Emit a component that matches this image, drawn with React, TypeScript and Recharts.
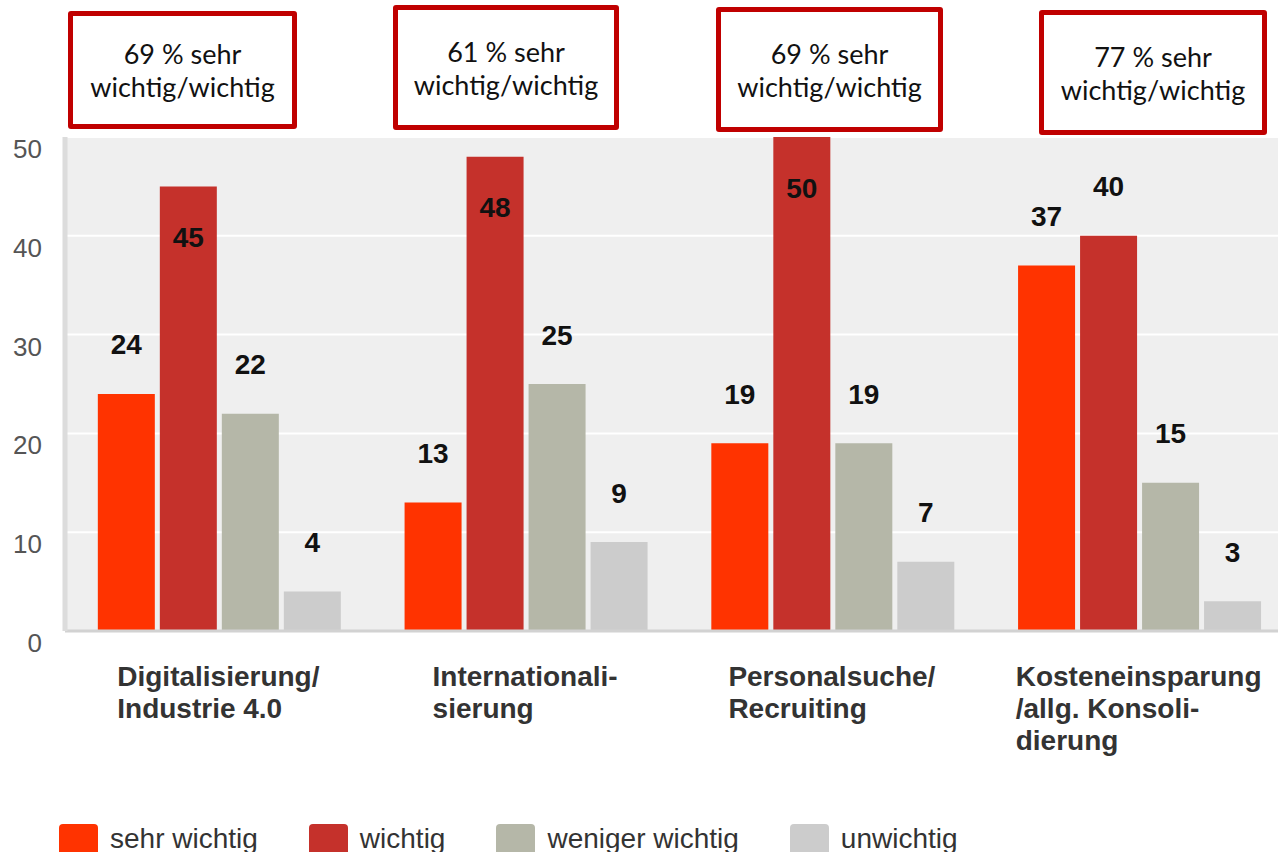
import React from 'react';
import { BarChart, Bar, XAxis, YAxis, CartesianGrid, Legend, LabelList } from 'recharts';

// categories and values
const categories = [
  'Digitalisierung/\nIndustrie 4.0',
  'Internationali-\nsierung',
  'Personalsuche/\nRecruiting',
  'Kosteneinsparung\n/allg. Konsoli-\ndierung',
];
const sehrWichtig = [24, 13, 19, 37];
const wichtig = [45, 48, 50, 40];
const wenigerWichtig = [22, 25, 19, 15];
const unwichtig = [4, 9, 7, 3];
const yTicks = [0, 10, 20, 30, 40, 50];
const boxTexts = ['69 % sehr\nwichtig/wichtig', '61 % sehr\nwichtig/wichtig', '69 % sehr\nwichtig/wichtig', '77 % sehr\nwichtig/wichtig'];

// layout of the annotation boxes
const boxLayout = [
  { left: 68, top: 11, width: 229, height: 118 },
  { left: 393, top: 5, width: 226, height: 125 },
  { left: 716, top: 7, width: 227, height: 125 },
  { left: 1039, top: 10, width: 228, height: 125 },
];

const series = [
  { key: 'sehrWichtig', name: 'sehr wichtig', color: '#ff3300' },
  { key: 'wichtig', name: 'wichtig', color: '#c5312b' },
  { key: 'wenigerWichtig', name: 'weniger wichtig', color: '#b5b7a8' },
  { key: 'unwichtig', name: 'unwichtig', color: '#cccccc' },
];

const data = categories.map((name, i) => ({
  name,
  sehrWichtig: sehrWichtig[i],
  wichtig: wichtig[i],
  wenigerWichtig: wenigerWichtig[i],
  unwichtig: unwichtig[i],
}));

const PLOT_TOP = 137;
const FONT = '"Liberation Sans", Arial, sans-serif';
const X_FONT = `bold 28px ${FONT}`;

let measureCtx: CanvasRenderingContext2D | null = null;
const measure = (s: string) => {
  if (!measureCtx) measureCtx = document.createElement('canvas').getContext('2d');
  if (!measureCtx) return s.length * 15;
  measureCtx.font = X_FONT;
  return measureCtx.measureText(s).width;
};

const XTick = (props: any) => {
  const { x, y, payload } = props;
  const lines = String(payload.value).split('\n');
  const w = Math.max(...lines.map(measure));
  const left = x - w / 2;
  return (
    <text x={left} y={y + 55} fill="#333" style={{ font: X_FONT }} textAnchor="start">
      {lines.map((l, i) => (
        <tspan key={i} x={left} dy={i === 0 ? 0 : 32}>{l}</tspan>
      ))}
    </text>
  );
};

const YTick = (props: any) => {
  const { x, y, payload } = props;
  return (
    <text x={x - 23} y={y + 12} fill="#555" fontSize={26} fontFamily={FONT} textAnchor="end" dominantBaseline="central">
      {payload.value}
    </text>
  );
};

const ValueLabel = (props: any) => {
  const { x, y, width, value } = props;
  let cy = y - 49;
  if (cy < PLOT_TOP + 25) cy = y + 51;
  return (
    <text x={x + width / 2} y={cy} textAnchor="middle" dominantBaseline="central" fontSize={28} fontWeight="bold" fontFamily={FONT} fill="#111">
      {value}
    </text>
  );
};

const LegendContent = (props: any) => {
  const order = series.map((s) => s.name);
  const payload = [...(props.payload || [])].sort((a: any, b: any) => order.indexOf(a.value) - order.indexOf(b.value));
  return (
    <div style={{ display: 'flex', alignItems: 'flex-start' }}>
      {payload.map((p: any) => (
        <div key={p.value} style={{ display: 'flex', alignItems: 'flex-start', marginRight: 51 }}>
          <div style={{ width: 39, height: 38, background: p.color, borderRadius: 4, marginRight: 12 }} />
          <span style={{ font: `28px ${FONT}`, lineHeight: '30px', color: '#333', whiteSpace: 'nowrap' }}>{p.value}</span>
        </div>
      ))}
    </div>
  );
};

export default function App() {
  return (
    <div style={{ position: 'absolute', left: 0, top: 0, width: 1278, height: 852, overflow: 'hidden', background: '#fff' }}>
      <BarChart
        width={1300}
        height={852}
        data={data}
        margin={{ top: PLOT_TOP, right: 8, bottom: 191, left: 0 }}
        barCategoryGap="10.7%"
        barGap={5}
      >
        <CartesianGrid vertical={false} fill="#efefef" stroke="#ffffff" strokeWidth={2} />
        <XAxis
          dataKey="name"
          height={30}
          tickLine={false}
          tickSize={0}
          tickMargin={0}
          interval={0}
          axisLine={{ stroke: '#d2d2d2', strokeWidth: 3 }}
          tick={<XTick />}
        />
        <YAxis
          width={65}
          domain={[0, 50]}
          ticks={yTicks}
          tickLine={false}
          tickSize={0}
          tickMargin={0}
          axisLine={{ stroke: '#dcdcdc', strokeWidth: 5 }}
          tick={<YTick />}
        />
        <Legend
          layout="horizontal"
          verticalAlign="middle"
          align="center"
          content={<LegendContent />}
          wrapperStyle={{ position: 'absolute', top: 824, left: 59, width: 1200 }}
        />
        {series.map((s) => (
          <Bar key={s.key} dataKey={s.key} name={s.name} fill={s.color} isAnimationActive={false}>
            <LabelList dataKey={s.key} content={<ValueLabel />} />
          </Bar>
        ))}
      </BarChart>
      {boxTexts.map((t, i) => (
        <div
          key={i}
          style={{
            position: 'absolute',
            ...boxLayout[i],
            boxSizing: 'border-box',
            border: '5px solid #c00000',
            borderRadius: 3,
            background: '#fff',
            display: 'flex',
            alignItems: 'center',
            justifyContent: 'center',
            textAlign: 'center',
            whiteSpace: 'pre',
            font: '27px Lato, "Open Sans", sans-serif',
            lineHeight: '33px',
            color: '#111',
          }}
        >
          {t}
        </div>
      ))}
    </div>
  );
}
